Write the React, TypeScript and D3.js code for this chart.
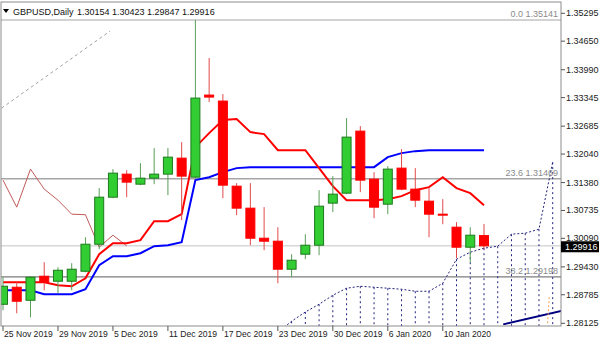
import React from "react";
import * as d3 from "d3";

// ---- data ----
const dates = [
  "25 Nov 2019","26 Nov 2019","27 Nov 2019","28 Nov 2019","29 Nov 2019",
  "2 Dec 2019","3 Dec 2019","4 Dec 2019","5 Dec 2019","6 Dec 2019",
  "9 Dec 2019","10 Dec 2019","11 Dec 2019","12 Dec 2019","13 Dec 2019",
  "16 Dec 2019","17 Dec 2019","18 Dec 2019","19 Dec 2019","20 Dec 2019",
  "23 Dec 2019","24 Dec 2019","26 Dec 2019","27 Dec 2019","30 Dec 2019",
  "31 Dec 2019","2 Jan 2020","3 Jan 2020","6 Jan 2020","7 Jan 2020",
  "8 Jan 2020","9 Jan 2020","10 Jan 2020","13 Jan 2020","14 Jan 2020","15 Jan 2020",
];
const timeTickIdx = [0, 4, 8, 12, 16, 20, 24, 28, 32];

const open = [1.28565,1.28959,1.28658,1.29214,1.29098,1.29098,1.29329,1.29954,1.31042,1.31575,1.31343,1.31482,1.31575,1.31945,1.31505,1.33404,1.33265,1.31297,1.30788,1.30093,1.30024,1.29376,1.29723,1.29931,1.30904,1.31135,1.32570,1.31459,1.30880,1.31714,1.31228,1.30950,1.30649,1.30348,1.29885,1.30154];
const high = [1.29190,1.29075,1.29210,1.29538,1.29422,1.29515,1.30116,1.31251,1.31691,1.31667,1.31830,1.32177,1.32177,1.32316,1.35141,1.34260,1.33427,1.31367,1.31367,1.30811,1.30348,1.29723,1.30186,1.31204,1.31529,1.32871,1.32686,1.31621,1.31760,1.32154,1.31714,1.31251,1.30996,1.30464,1.30348,1.30423];
const low = [1.28426,1.28357,1.28264,1.28889,1.28820,1.28889,1.29306,1.29839,1.31019,1.31042,1.31320,1.31343,1.31089,1.30510,1.31482,1.33242,1.31019,1.30626,1.29931,1.29815,1.29052,1.29190,1.29607,1.29700,1.30695,1.31112,1.31158,1.30556,1.30649,1.31204,1.30811,1.30116,1.30417,1.29630,1.29538,1.29847];
const close = [1.28982,1.28635,1.29190,1.29075,1.29352,1.29376,1.29954,1.31042,1.31598,1.31390,1.31482,1.31575,1.31968,1.31529,1.33334,1.33357,1.31320,1.30788,1.30093,1.30024,1.29376,1.29584,1.29931,1.30834,1.31112,1.32431,1.31436,1.30811,1.31691,1.31228,1.30973,1.30649,1.30637,1.29885,1.30163,1.29916];

// Ichimoku
const tenkan = [1.29075,1.29075,1.29075,1.29075,1.29005,1.28982,1.29167,1.29723,1.29978,1.29978,1.30047,1.30487,1.30487,1.30649,1.32200,1.32524,1.32825,1.32848,1.32547,1.32501,1.32130,1.32130,1.32130,1.31714,1.31297,1.30973,1.30973,1.30973,1.30996,1.31066,1.31204,1.31274,1.31505,1.31251,1.31135,1.30857];
const kijun = [1.28889,1.28889,1.28889,1.28797,1.28797,1.28797,1.28913,1.29468,1.29677,1.29677,1.29746,1.29908,1.29931,1.30001,1.31436,1.31505,1.31621,1.31714,1.31737,1.31737,1.31737,1.31737,1.31737,1.31737,1.31737,1.31737,1.31737,1.31737,1.31968,1.32061,1.32107,1.32130,1.32130,1.32130,1.32130,1.32130];
const chikouShift = 26;
const cloudStart = 20;
const cloudTop = [1.27917,1.28172,1.28387,1.28565,1.28774,1.28936,1.28982,1.28959,1.28936,1.28913,1.28866,1.28866,1.29052,1.29607,1.29769,1.29862,1.29908,1.30186,1.30209,1.30302,1.31853];

const priceTicks = [1.35295,1.34650,1.33990,1.33345,1.32685,1.32040,1.31380,1.30735,1.30090,1.29430,1.28785,1.28125];
const fibLevels = ["0.0", "23.6", "38.2"];
const fibPrices = [1.35141, 1.31469, 1.29198];
const bid = 1.29916;

const symbolTitle = "GBPUSD,Daily";
const titleValues = "1.30154 1.30423 1.29847 1.29916";

// drawn objects (anchors: bar index, price)
const fibDiagonal: [number, number][] = [[-0.1, 1.33103], [7.8, 1.34885]];
const navyTrend: [number, number][] = [[36.4, 1.28100], [40.65, 1.28415]];
const orangeLine: [number, number][] = [[39.75, 1.28727], [39.62, 1.28100]];

const FONT = "Tahoma, 'Liberation Sans', Arial, sans-serif";

export default function App() {
  const plot = { left: 1, right: 561, top: 2, bottom: 326 };
  const x = d3.scaleLinear().domain([0, 35]).range([3, 484]);
  const y = d3.scaleLinear().domain([1.28125, 1.35295]).range([323.3, 13.3]);
  const line = d3.line<[number, number]>().x((d) => x(d[0])).y((d) => y(d[1]));

  const tenkanPts = tenkan.map((v, i) => [i, v] as [number, number]);
  const kijunPts = kijun.map((v, i) => [i, v] as [number, number]);
  const chikouPts: [number, number][] = [];
  for (let i = 0; i + chikouShift < close.length; i++) chikouPts.push([i, close[i + chikouShift]]);
  const cloudPts = cloudTop.map((v, k) => [cloudStart + k, v] as [number, number]);

  return (
    <svg
      width={600}
      height={343}
      style={{ position: "fixed", left: 0, top: 0, background: "#fff" }}
      fontFamily={FONT}
    >
      <defs>
        <clipPath id="plotClip">
          <rect x={plot.left} y={plot.top} width={plot.right - plot.left} height={plot.bottom - plot.top} />
        </clipPath>
      </defs>

      <g clipPath="url(#plotClip)">
        {/* fib levels */}
        {fibPrices.map((p, k) => (
          <line key={"fl" + k} x1={plot.left} x2={plot.right} y1={y(p)} y2={y(p)}
            stroke={k === 2 ? "#7c7c7c" : "#a6a6a6"} strokeWidth={k === 1 ? 1.6 : 1.1} />
        ))}
        {/* bid line */}
        <line x1={plot.left} x2={plot.right} y1={y(bid)} y2={y(bid)} stroke="#c4c4c4" strokeWidth={1} />

        {/* fib diagonal */}
        <path d={line(fibDiagonal) || ""} stroke="#a0a0a0" strokeWidth={1} strokeDasharray="3,3" fill="none" />

        {/* cloud hatch */}
        {cloudPts.map((d, k) => (
          <line key={"cv" + k} x1={x(d[0])} x2={x(d[0])} y1={y(d[1])} y2={plot.bottom}
            stroke="#23237e" strokeWidth={1} strokeDasharray="2,3" />
        ))}
        <path d={line(cloudPts) || ""} stroke="#23237e" strokeWidth={1} strokeDasharray="2,2" fill="none" />

        {/* chikou */}
        <path d={line(chikouPts) || ""} stroke="#c25a5a" strokeWidth={1} fill="none" />
        {/* kijun */}
        <path d={line(kijunPts) || ""} stroke="#0000ff" strokeWidth={2} fill="none" />
        {/* tenkan */}
        <path d={line(tenkanPts) || ""} stroke="#ff0000" strokeWidth={2} fill="none" />

        {/* trendlines */}
        <path d={line(navyTrend) || ""} stroke="#000080" strokeWidth={2} fill="none" />
        <path d={line(orangeLine) || ""} stroke="#f5a04a" strokeWidth={1} strokeDasharray="2,2" fill="none" />

        {/* candles */}
        {open.map((o, i) => {
          const c = close[i];
          const bull = c >= o;
          const top = y(Math.max(o, c));
          const bot = y(Math.min(o, c));
          const cx = x(i);
          return (
            <g key={"c" + i}>
              <line x1={cx} x2={cx} y1={y(high[i])} y2={y(low[i])}
                stroke={bull ? "#5a9e5a" : "#e24a4a"} strokeWidth={1} />
              <rect x={cx - 4.5} y={top} width={9} height={Math.max(1, bot - top)}
                fill={bull ? "#32cd32" : "#ff0000"} stroke={bull ? "#1d7a1d" : "#ff0000"} strokeWidth={1} />
            </g>
          );
        })}
      </g>

      {/* fib labels */}
      {fibPrices.map((p, k) => (
        <text key={"ft" + k} x={558} y={y(p) - 3} textAnchor="end" fontSize={9} fill="#8a8a8a">
          {fibLevels[k] + " " + p.toFixed(5)}
        </text>
      ))}

      {/* frame */}
      <rect x={plot.left} y={plot.top} width={plot.right - plot.left} height={plot.bottom - plot.top}
        fill="none" stroke="#8c8c8c" strokeWidth={1} />

      {/* price axis */}
      {priceTicks.map((p, k) => (
        <g key={"pt" + k}>
          <line x1={plot.right} x2={plot.right + 4} y1={y(p)} y2={y(p)} stroke="#555" strokeWidth={1} />
          <text x={566} y={y(p) + 3} fontSize={9} fill="#222">{p.toFixed(5)}</text>
        </g>
      ))}
      <rect x={plot.right} y={y(bid) - 4.6} width={38} height={11} fill="#000" />
      <text x={565} y={y(bid) + 4} fontSize={9} fill="#fff">{bid.toFixed(5)}</text>

      {/* time axis */}
      {timeTickIdx.map((i) => (
        <g key={"tt" + i}>
          <line x1={x(i)} x2={x(i)} y1={plot.bottom} y2={plot.bottom + 5} stroke="#555" strokeWidth={1} />
          <text x={x(i) + 1} y={337} fontSize={8.6} fill="#222">{dates[i]}</text>
        </g>
      ))}

      {/* title */}
      <path d="M3,9 L9,9 L6,13 Z" fill="#000" />
      <text x={13} y={15} fontSize={9} fill="#111">{symbolTitle}</text>
      <text x={77} y={15} fontSize={9} fill="#111">{titleValues}</text>
    </svg>
  );
}
